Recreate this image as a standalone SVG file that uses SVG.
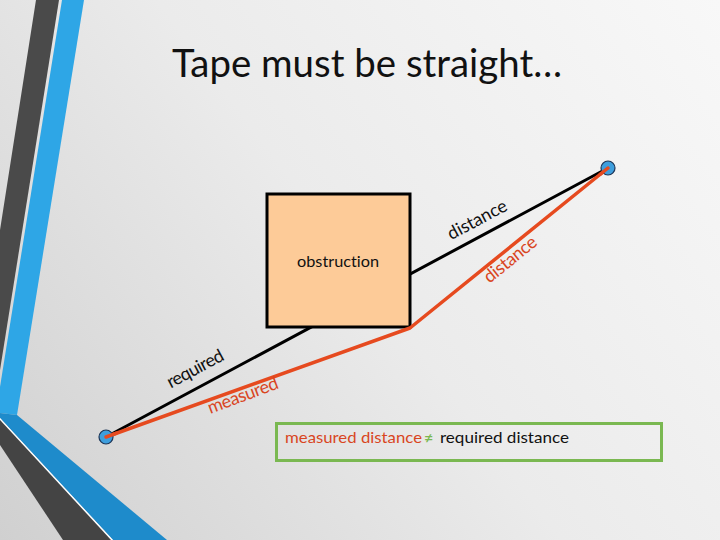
<svg xmlns="http://www.w3.org/2000/svg" width="720" height="540" viewBox="0 0 720 540">
  <defs>
    <linearGradient id="bg" x1="720" y1="0" x2="0" y2="540" gradientUnits="userSpaceOnUse">
      <stop offset="0" stop-color="#F8F8F8"/>
      <stop offset="0.5" stop-color="#EBEBEB"/>
      <stop offset="1" stop-color="#D0D0D0"/>
    </linearGradient>
    <style>
      .t { font-family: Lato, "Open Sans", "Liberation Sans", sans-serif; font-variant-ligatures: none; }
      .blk { fill: #111111; }
      .red { fill: #D9461F; }
      .lbl { font-size: 18px; }
      .pt { fill: #3E9EDD; stroke: #1E3556; stroke-width: 1.2; }
      .req { fill: none; stroke: #000000; stroke-width: 3; stroke-linecap: round; }
      .meas { fill: none; stroke: #E64A1F; stroke-width: 3.5; stroke-linejoin: round; stroke-linecap: round; }
    </style>
  </defs>

  <rect x="0" y="0" width="720" height="540" fill="url(#bg)"/>

  <g id="decoration">
    <polygon points="36,0 59,0 0,370 0,230" fill="#4A4A4A"/>
    <polygon points="62,0 84,0 17,415 0,413 0,387" fill="#2EA6E6"/>
    <polygon points="17,415 167,540 113,540 0,418 0,413" fill="#1E8BCB"/>
    <polygon points="0,418 113,540 111,540 0,420" fill="#FFFFFF"/>
    <polygon points="0,420 111,540 63,540 0,445" fill="#444444"/>
  </g>

  <g id="title">
    <text class="t" x="172" y="77" font-size="39" fill="#111111" textLength="390" lengthAdjust="spacingAndGlyphs">Tape must be straight…</text>
  </g>

  <g id="connectors">
    <line id="required-line" class="req" x1="106" y1="437" x2="608" y2="168"/>
  </g>

  <g id="obstruction">
    <rect x="267" y="194" width="143" height="133" fill="#FDCB98" stroke="#000000" stroke-width="3"/>
    <text class="t blk" x="338" y="267" font-size="16" text-anchor="middle" textLength="82" lengthAdjust="spacingAndGlyphs">obstruction</text>
  </g>

  <g id="connectors-measured">
    <polyline id="measured-line" class="meas" points="106,437 410,328 608,168"/>
  </g>

  <g id="point-left">
    <circle class="pt" cx="106" cy="437" r="7"/>
  </g>
  <g id="point-right">
    <circle class="pt" cx="608" cy="168" r="7"/>
  </g>
  <g id="connector-ends">
    <line x1="106" y1="437" x2="116" y2="433.4" stroke="#E64A1F" stroke-width="3.5" stroke-linecap="round"/>
    <line x1="608" y1="168" x2="600" y2="174.5" stroke="#E64A1F" stroke-width="3.5" stroke-linecap="round"/>
  </g>

  <g id="labels">
    <text class="t blk lbl" transform="translate(480,225) rotate(-28.1)" text-anchor="middle" textLength="65" lengthAdjust="spacing">distance</text>
    <text class="t red lbl" transform="translate(514,264) rotate(-39)" text-anchor="middle" textLength="63" lengthAdjust="spacing" fill="#CF4520">distance</text>
    <text class="t blk lbl" transform="translate(198,374) rotate(-28.1)" text-anchor="middle" textLength="62" lengthAdjust="spacing">required</text>
    <text class="t red lbl" transform="translate(245,401) rotate(-20.5)" text-anchor="middle" textLength="74" lengthAdjust="spacing">measured</text>
  </g>

  <g id="legend">
    <rect x="276.5" y="423.5" width="385" height="37" fill="none" stroke="#7AB851" stroke-width="3"/>
    <text class="t" x="285" y="443" font-size="16"><tspan fill="#D9461F" textLength="137" lengthAdjust="spacingAndGlyphs">measured distance</tspan><tspan x="424" fill="#7AB851" font-weight="bold">≠</tspan><tspan x="440" fill="#111111" textLength="129" lengthAdjust="spacingAndGlyphs">required distance</tspan></text>
  </g>
</svg>
